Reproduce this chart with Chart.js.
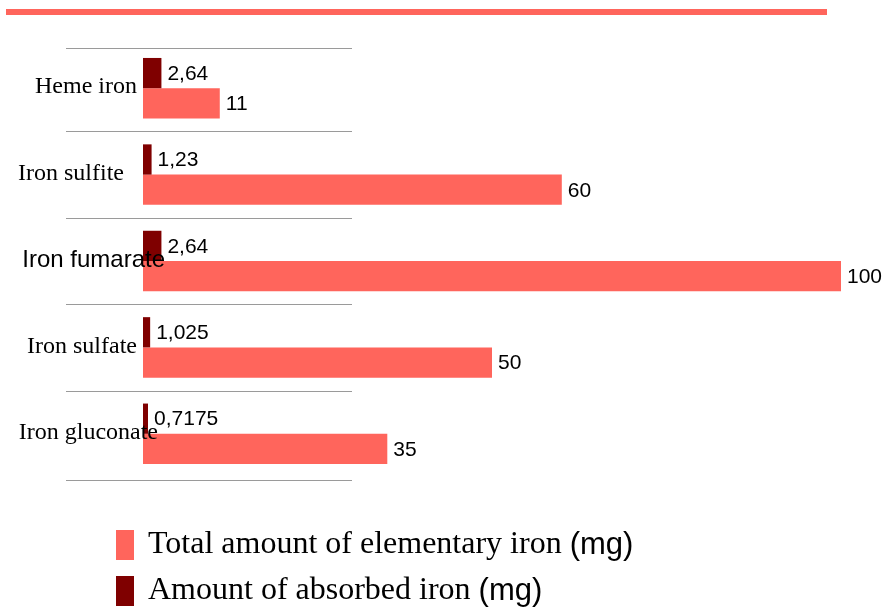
<!DOCTYPE html>
<html>
<head>
<meta charset="utf-8">
<script src="https://cdn.jsdelivr.net/npm/chart.js@4"></script>
<style>
  html, body { margin: 0; padding: 0; background: #ffffff; }
  #wrap { width: 887px; height: 607px; position: relative; }
</style>
</head>
<body>
<div id="wrap"><canvas id="chart"></canvas></div>
<script>
// data
const categories = ['Heme iron', 'Iron sulfite', 'Iron fumarate', 'Iron sulfate', 'Iron gluconate']
const absorbedIron = [2.64, 1.23, 2.64, 1.025, 0.7175]
const totalIron = [11, 60, 100, 50, 35]
const legendLabels = ['Total amount of elementary iron ', 'Amount of absorbed iron ']
const unitLabel = '(mg)'

const SALMON = '#ff655c'
const DARK = '#7f0000'
const SERIF = '"Liberation Serif", "DejaVu Serif", serif'
const SANS = '"Liberation Sans", Arial, sans-serif'

// category label look (the source mixes fonts)
const labelLook = [
  { font: SERIF, right: 137 },
  { font: SERIF, right: 124 },
  { font: SANS, right: 165 },
  { font: SERIF, right: 137 },
  { font: SERIF, right: 158 }
]

const fmt = v => String(v).replace('.', ',')

const decorPlugin = {
  id: 'decor',
  afterDraw(chart) {
    const ctx = chart.ctx
    const y = chart.scales.y
    ctx.save()
    // red rule on top
    ctx.fillStyle = SALMON
    ctx.fillRect(6, 9, 821, 6)

    // separators between categories
    const n = categories.length
    const step = y.getPixelForValue(1) - y.getPixelForValue(0)
    ctx.strokeStyle = '#9a9a9a'
    ctx.lineWidth = 1.2
    for (let i = 0; i <= n; i++) {
      let py = y.getPixelForValue(i) - step / 2
      if (i === 0 || i === n) py += 3
      py = Math.round(py) + 0.5
      ctx.beginPath()
      ctx.moveTo(66, py)
      ctx.lineTo(352, py)
      ctx.stroke()
    }

    // value labels
    ctx.fillStyle = '#000000'
    ctx.font = '21px ' + SANS
    ctx.textAlign = 'left'
    ctx.textBaseline = 'middle'
    chart.data.datasets.forEach((ds, di) => {
      const meta = chart.getDatasetMeta(di)
      meta.data.forEach((bar, i) => {
        ctx.fillText(fmt(ds.data[i]), bar.x + 6, bar.y + 1)
      })
    })

    // category labels
    ctx.textAlign = 'right'
    categories.forEach((c, i) => {
      ctx.font = '24px ' + labelLook[i].font
      ctx.fillText(c, labelLook[i].right, y.getPixelForValue(i) - 1)
    })

    // legend
    const order = [1, 0]
    order.forEach((di, k) => {
      const ds = chart.data.datasets[di]
      const cy = 545 + k * 46
      ctx.fillStyle = ds.backgroundColor
      ctx.fillRect(116, cy - 15, 18, 30)
      ctx.fillStyle = '#000000'
      ctx.textAlign = 'left'
      ctx.font = '32px ' + SERIF
      const txt = legendLabels[k]
      ctx.fillText(txt, 148, cy)
      const w = ctx.measureText(txt).width
      ctx.font = '31px ' + SANS
      ctx.fillText(unitLabel, 148 + w, cy)
    })
    ctx.restore()
  }
}

new Chart(document.getElementById('chart'), {
  type: 'bar',
  data: {
    labels: categories,
    datasets: [
      {
        label: legendLabels[1] + unitLabel,
        data: absorbedIron,
        backgroundColor: DARK,
        categoryPercentage: 0.7,
        barPercentage: 1
      },
      {
        label: legendLabels[0] + unitLabel,
        data: totalIron,
        backgroundColor: SALMON,
        categoryPercentage: 0.7,
        barPercentage: 1
      }
    ]
  },
  options: {
    indexAxis: 'y',
    responsive: true,
    maintainAspectRatio: false,
    animation: false,
    layout: { padding: { left: 143, right: 46, top: 45, bottom: 130 } },
    scales: {
      x: { display: false, min: 0, max: 100 },
      y: { display: false }
    },
    plugins: {
      legend: { display: false },
      tooltip: { enabled: false }
    }
  },
  plugins: [decorPlugin]
})
</script>
</body>
</html>
